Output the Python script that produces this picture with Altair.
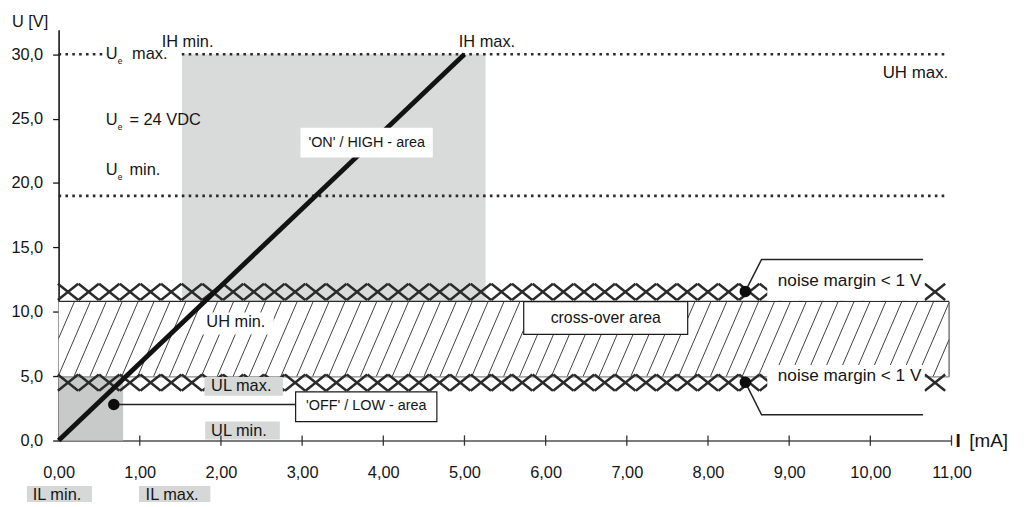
import altair as alt
import pandas as pd
import numpy as np

FONT = "Liberation Sans"
INK = "#151515"

# ---------------- data ----------------
x_tick_values = [0, 1, 2, 3, 4, 5, 6, 7, 8, 9, 10, 11]
x_minor_ticks = [1, 2, 3, 4, 5, 6, 7, 8, 9, 10, 11]
y_tick_values = [0, 5, 10, 15, 20, 25, 30]
X_DOMAIN = [0, 11]
Y_DOMAIN = [0, 31.9]

# input characteristic
char_i = [0.0, 5.0]
char_u = [0.0, 30.0]

# areas  (mA / V)
on_area_x, on_area_x2, on_area_y, on_area_y2 = [1.52], [5.26], [10.8], [30.0]
off_area_x, off_area_x2, off_area_y, off_area_y2 = [0.0], [0.795], [0.0], [5.0]
band_x, band_x2, band_y, band_y2 = 0.0, 10.97, 4.95, 10.8

# voltage limit lines (Ue max, Ue min)
limit_u = [30.0, 19.0]
limit_i_end = [10.92, 10.93]

# cross (noise margin) rows
cross_rows_u = [11.55, 4.5]
cross_first_i, cross_step_i, cross_count = 0.116, 0.2543, 43

# hatch pattern of the cross-over band
hatch_spacing, hatch_dx = 0.196, 0.40

# white label boxes (no border)
wbox_x = [0.587, 2.98, 1.77, 8.73, 8.73]
wbox_x2 = [1.504, 4.61, 2.65, 10.67, 10.67]
wbox_y = [30.74, 24.29, 9.94, 13.48, 5.86]
wbox_y2 = [28.97, 21.98, 8.24, 10.86, 3.24]

# white label boxes with border
bbox_x = [5.73, 2.92]
bbox_x2 = [7.75, 4.66]
bbox_y = [10.79, 3.775]
bbox_y2 = [8.24, 1.464]

# grey label boxes
gbox_x = [1.797, 1.806, -0.391, 0.99]
gbox_x2 = [2.763, 2.726, 0.412, 1.87]
gbox_y = [4.93, 1.487, -3.54, -3.54]
gbox_y2 = [3.47, 0.08, -5.3, -5.3]

# left aligned labels
lab_text = ["U [V]", "IH min.", "IH max.", "U", "max.", "U", "= 24 VDC", "U", "min.",
            "UH min.", "UL max.", "UL min.", "IL min.", "IL max."]
lab_x = [-0.575, 1.27, 4.93, 0.58, 0.905, 0.58, 0.872, 0.58, 0.872,
         1.82, 1.879, 1.879, -0.318, 1.072]
lab_y = [32.53, 30.93, 30.93, 30.05, 30.05, 24.91, 24.91, 21.03, 21.03,
         9.17, 4.2, 0.73, -4.26, -4.26]

# subscripts "e"
sub_x = [0.73, 0.73, 0.73]
sub_y = [29.5, 24.37, 20.48]

# noise margin labels
nm_text = ["noise margin < 1 V", "noise margin < 1 V"]
nm_x = [8.86, 8.86]
nm_y = [12.4, 5.03]

# right aligned
rlab_text = ["UH max."]
rlab_x = [10.96]
rlab_y = [28.53]

# centred box labels
area_text = ["'ON' / HIGH - area", "'OFF' / LOW - area"]
area_tx = [3.795, 3.79]
area_ty = [23.14, 2.66]
cross_text = ["cross-over area"]
cross_tx = [6.74]
cross_ty = [9.53]

# leaders
lead_id = ["up", "up", "up", "low", "low", "low", "off", "off"]
lead_k = [0, 1, 2, 0, 1, 2, 0, 1]
lead_i = [8.46, 8.66, 10.65, 8.46, 8.66, 10.65, 0.68, 2.92]
lead_u = [11.58, 14.06, 14.06, 4.52, 2.0, 2.0, 2.8, 2.8]
dot_i = [8.46, 8.46, 0.68]
dot_u = [11.58, 4.52, 2.8]

# ---------------- scales / axes ----------------
xs = alt.Scale(domain=X_DOMAIN, nice=False, zero=False)
ys = alt.Scale(domain=Y_DOMAIN, nice=False, zero=False)
x_axis = alt.Axis(values=x_tick_values, title=None, grid=False, ticks=False, tickSize=0,
                  labelExpr="replace(format(datum.value, '.2f'), '.', ',')",
                  labelFlush=False, labelOverlap=False, labelPadding=24,
                  labelFont=FONT, labelFontSize=16.5, labelColor=INK,
                  domainColor="#505050", domainWidth=1.5)
y_axis = alt.Axis(values=y_tick_values, title=None, grid=False,
                  labelExpr="replace(format(datum.value, '.1f'), '.', ',')",
                  labelFlush=False, labelOverlap=False, labelPadding=10,
                  tickSize=6, tickWidth=1.3, tickColor=INK,
                  labelFont=FONT, labelFontSize=16.5, labelColor=INK,
                  domainColor=INK, domainWidth=1.6)


def X(f):
    return alt.X(f, type="quantitative", scale=xs, axis=x_axis)


def Y(f):
    return alt.Y(f, type="quantitative", scale=ys, axis=y_axis)


def rects(xv, x2v, yv, y2v, **mk):
    df = pd.DataFrame({"x": xv, "x2": x2v, "y": yv, "y2": y2v})
    return alt.Chart(df).mark_rect(**mk).encode(x=X("x"), x2="x2", y=Y("y"), y2="y2")


def texts(t, xv, yv, **mk):
    df = pd.DataFrame({"t": t, "x": xv, "y": yv})
    base = dict(font=FONT, color=INK, baseline="middle")
    base.update(mk)
    return alt.Chart(df).mark_text(**base).encode(x=X("x"), y=Y("y"), text="t:N")


layers = []
# areas
layers.append(rects(on_area_x, on_area_x2, on_area_y, on_area_y2, color="#d9dbdb"))
layers.append(rects(off_area_x, off_area_x2, off_area_y, off_area_y2, color="#c8c9c9"))

# dotted limit lines
lim_df = pd.DataFrame({"u": limit_u, "x0": [0.0] * len(limit_u), "x1": limit_i_end})
layers.append(alt.Chart(lim_df).mark_rule(color="#2a2a2a", strokeWidth=2.6, strokeDash=[2.6, 4.3])
              .encode(x=X("x0"), x2="x1", y=Y("u")))

# cross-over band (white fill)
layers.append(rects([band_x], [band_x2], [band_y], [band_y2], color="white"))

# hatch lines
hs = np.arange(band_x - hatch_dx, band_x2, hatch_spacing)
hx0, hy0, hx1, hy1 = [], [], [], []
for s in hs:
    x0, y0, x1, y1 = s, band_y, s + hatch_dx, band_y2
    if x0 < band_x:
        t = (band_x - x0) / hatch_dx
        x0, y0 = band_x, band_y + t * (band_y2 - band_y)
    if x1 > band_x2:
        t = (band_x2 - s) / hatch_dx
        x1, y1 = band_x2, band_y + t * (band_y2 - band_y)
    if x1 > x0:
        hx0.append(x0); hy0.append(y0); hx1.append(x1); hy1.append(y1)
hatch_df = pd.DataFrame({"x": hx0, "y": hy0, "x2": hx1, "y2": hy1})
layers.append(alt.Chart(hatch_df).mark_rule(color="#2a2a2a", strokeWidth=0.9)
              .encode(x=X("x"), y=Y("y"), x2="x2", y2="y2"))

# band borders
bord_df = pd.DataFrame({"x": [band_x, band_x2, band_x], "x2": [band_x2, band_x2, band_x2],
                        "y": [band_y2, band_y, band_y], "y2": [band_y2, band_y2, band_y],
                        "c": ["top", "right", "bottom"]})
layers.append(alt.Chart(bord_df).mark_rule(strokeWidth=1.2)
              .encode(x=X("x"), y=Y("y"), x2="x2", y2="y2",
                      color=alt.Color("c:N", scale=alt.Scale(domain=["top", "right", "bottom"],
                                                              range=["#2a2a2a", "#555555", "#8a8a8a"]),
                                      legend=None)))

# crosses
ci = cross_first_i + cross_step_i * np.arange(cross_count)
cross_df = pd.DataFrame({"x": np.concatenate([ci] * len(cross_rows_u)),
                         "y": np.repeat(cross_rows_u, cross_count)})
layers.append(alt.Chart(cross_df).mark_point(shape="M-1,-0.8L1,0.8M-1,0.8L1,-0.8", size=420,
                                              filled=False, stroke="#2b2b2b", strokeWidth=2.5,
                                              opacity=1)
              .encode(x=X("x"), y=Y("y")))

# characteristic line
char_df = pd.DataFrame({"i": char_i, "u": char_u})
layers.append(alt.Chart(char_df).mark_line(color="#121212", strokeWidth=4.8)
              .encode(x=X("i"), y=Y("u")))

# label boxes
layers.append(rects(wbox_x, wbox_x2, wbox_y, wbox_y2, color="white"))
layers.append(rects(bbox_x, bbox_x2, bbox_y, bbox_y2, fill="white", stroke="#1a1a1a", strokeWidth=1.2))
layers.append(rects(gbox_x, gbox_x2, gbox_y, gbox_y2, color="#d6d7d7"))

# leaders and dots
lead_df = pd.DataFrame({"id": lead_id, "k": lead_k, "i": lead_i, "u": lead_u})
layers.append(alt.Chart(lead_df).mark_line(color="#222222", strokeWidth=1.5)
              .encode(x=X("i"), y=Y("u"), detail="id:N", order="k:Q"))
dot_df = pd.DataFrame({"i": dot_i, "u": dot_u})
layers.append(alt.Chart(dot_df).mark_circle(size=135, color="#0d0d0d", opacity=1)
              .encode(x=X("i"), y=Y("u")))

# x axis ticks crossing the axis
tick_df = pd.DataFrame({"x": x_minor_ticks})
layers.append(alt.Chart(tick_df).mark_rule(color="#333333", strokeWidth=1.3)
              .encode(x=X("x"), y=alt.datum(-0.4, scale=ys), y2=alt.datum(0.4)))

# texts
layers.append(texts(lab_text, lab_x, lab_y, align="left", fontSize=16.5))
layers.append(texts(["e"] * len(sub_x), sub_x, sub_y, align="left", fontSize=8.5))
layers.append(texts(nm_text, nm_x, nm_y, align="left", fontSize=17.3))
layers.append(texts(rlab_text, rlab_x, rlab_y, align="right", fontSize=17))
layers.append(texts(area_text, area_tx, area_ty, align="center", fontSize=14.5))
layers.append(texts(cross_text, cross_tx, cross_ty, align="center", fontSize=16))
layers.append(texts(["I"], [11.05], [-0.04], align="left", fontSize=19, fontWeight="bold"))
layers.append(texts(["[mA]"], [11.22], [-0.04], align="left", fontSize=19))

chart = (alt.layer(*layers)
         .properties(width=900, height=414,
                     padding={"left": 51, "top": 20, "right": 65, "bottom": 60},
                     autosize=alt.AutoSizeParams(type="none"))
         .configure_view(stroke=None))

chart.save("out.html", embed_options={"renderer": "svg", "actions": False})
